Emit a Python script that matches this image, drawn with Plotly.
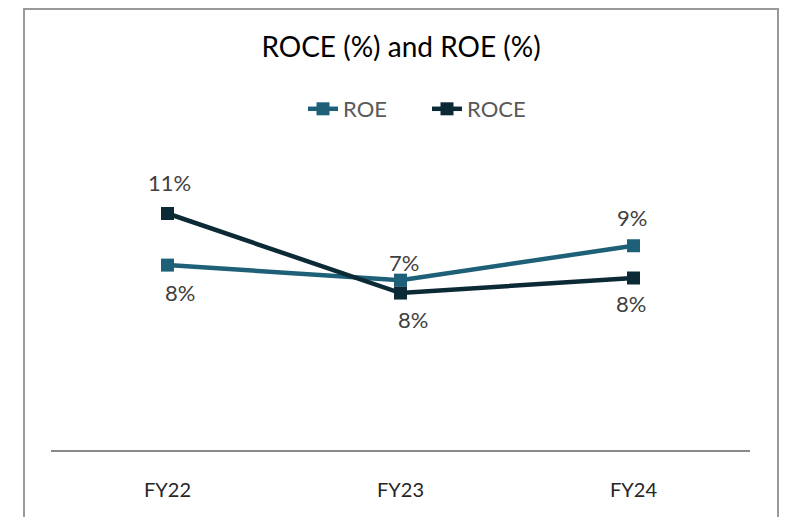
import plotly.graph_objects as go

categories = ["FY22", "FY23", "FY24"]
roe = [8.6, 7.9, 9.5]
roce = [11.0, 7.3, 8.0]
roe_labels = ["8%", "7%", "9%"]
roce_labels = ["11%", "8%", "8%"]

ROE_COLOR = "#1F6079"
ROCE_COLOR = "#0B2A36"
FONT = "Lato, 'Open Sans', sans-serif"

# page body has an 8px margin; figure is sized/offset to compensate
OFF = 8
W, H = 789 - OFF, 517 - OFF
L, R, T, B = 51 - OFF, 39, 149 - OFF, 67

fig = go.Figure()
fig.add_trace(go.Scatter(
    x=categories, y=roe, name="ROE", mode="lines+markers",
    line=dict(color=ROE_COLOR, width=4.5),
    marker=dict(symbol="square", size=13, color=ROE_COLOR),
    cliponaxis=False,
))
fig.add_trace(go.Scatter(
    x=categories, y=roce, name="ROCE", mode="lines+markers",
    line=dict(color=ROCE_COLOR, width=4.5),
    marker=dict(symbol="square", size=13, color=ROCE_COLOR),
    cliponaxis=False,
))

# label placement (style): (xshift, yshift) per point
roe_shift = [(12, -27), (3, 18), (-2, 28)]
roce_shift = [(2, 31), (12, -26), (-3, -25)]

annotations = []
for cat, v, txt, (dx, dy) in zip(categories, roe, roe_labels, roe_shift):
    annotations.append(dict(x=cat, y=v, text=txt, showarrow=False,
                            xshift=dx, yshift=dy,
                            font=dict(family=FONT, size=22, color="#404040")))
for cat, v, txt, (dx, dy) in zip(categories, roce, roce_labels, roce_shift):
    annotations.append(dict(x=cat, y=v, text=txt, showarrow=False,
                            xshift=dx, yshift=dy,
                            font=dict(family=FONT, size=22, color="#404040")))

pw = W - L - R
ph = H - T - B
bottom = H - B  # pixel (figure coords) of plot bottom


def px_x(sx):
    return (sx - OFF - L) / pw


def px_y(sy):
    return (bottom - (sy - OFF)) / ph


fig.update_layout(
    width=W, height=H,
    margin=dict(l=L, r=R, t=T, b=B),
    paper_bgcolor="white", plot_bgcolor="white",
    font=dict(family=FONT),
    title=dict(text="ROCE (%) and ROE (%)", x=(401 - OFF) / W, xanchor="center",
               y=1 - (47 - OFF) / H, yanchor="middle", yref="container",
               font=dict(family=FONT, size=28, color="#000000")),
    legend=dict(orientation="h", x=(303 - OFF) / W, xanchor="left", xref="container",
                y=1 - (109 - OFF) / H, yanchor="middle", yref="container",
                entrywidth=79, entrywidthmode="pixels",
                font=dict(family=FONT, size=22, color="#595959"),
                bgcolor="rgba(0,0,0,0)"),
    xaxis=dict(type="category", range=[-0.5, 2.5], showgrid=False,
               showline=True, linecolor="#898989", linewidth=2,
               ticks="", ticklabelstandoff=21, zeroline=False,
               tickfont=dict(family=FONT, size=20, color="#262626")),
    yaxis=dict(range=[0, 14], visible=False, showgrid=False, zeroline=False),
    annotations=annotations,
    shapes=[dict(type="rect", xref="paper", yref="paper",
                 x0=px_x(24), x1=px_x(778),
                 y0=px_y(540), y1=px_y(9),
                 line=dict(color="#999999", width=2), fillcolor="rgba(0,0,0,0)")],
)

fig.write_html("out.html")
